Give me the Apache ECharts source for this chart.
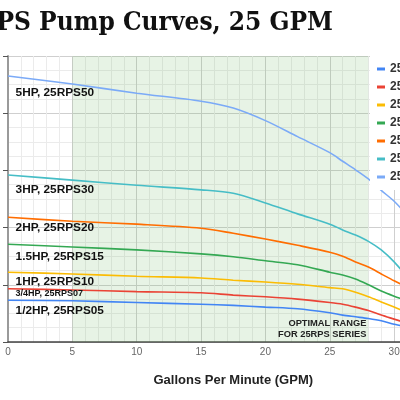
<!DOCTYPE html>
<html>
<head>
<meta charset="utf-8">
<script src="https://cdn.jsdelivr.net/npm/echarts@6/dist/echarts.min.js"></script>
<style>html,body{margin:0;padding:0;background:#fff;overflow:hidden}#c{width:470px;height:400px}</style>
</head>
<body>
<div id="c"></div>
<script>
// Flow (GPM) sample points
const gpm = [0, 5, 10, 15, 17.5, 20, 22.5, 25, 26, 27, 28, 29, 30, 31, 32];
// Head (ft) per model
const rps05 = [73, 72, 69, 66, 64, 61, 58, 51, 47, 44, 41, 37, 31, 26, 21];
const rps07 = [93, 91, 88, 86, 82, 79, 75, 69, 66, 61, 55, 47, 40, 33, 26];
const rps10 = [122, 119, 115, 112, 108, 105, 101, 95, 93, 87, 79, 70, 61, 52, 44];
const rps15 = [171, 166, 161, 154, 149, 142, 135, 122, 117, 110, 100, 89, 80, 72, 63];
const rps20 = [218, 211, 206, 199, 190, 180, 169, 157, 150, 140, 131, 119, 107, 96, 86];
const rps30 = [292, 283, 274, 266, 260, 243, 224, 206, 196, 187, 176, 161, 140, 114, 87];
const rps50 = [465, 451, 435, 421, 409, 387, 359, 331, 316, 301, 285, 265, 246, 222, 196];

const seriesNames = ['25RPS05', '25RPS07', '25RPS10', '25RPS15', '25RPS20', '25RPS30', '25RPS50'];
const seriesData = [rps05, rps07, rps10, rps15, rps20, rps30, rps50];
const curveLabels = ['1/2HP, 25RPS05', '3/4HP, 25RPS07', '1HP, 25RPS10', '1.5HP, 25RPS15', '2HP, 25RPS20', '3HP, 25RPS30', '5HP, 25RPS50'];
const curveLabelHead = [55, 84, 105, 149, 199, 267, 435];
const optimalRange = [5, 28];
const titleText = '25RPS Pump Curves, 25 GPM';
const xAxisName = 'Gallons Per Minute (GPM)';
const optimalText = 'OPTIMAL RANGE\nFOR 25RPS SERIES';

const colors = ['#4285F4', '#EA4335', '#FBBC04', '#34A853', '#FF6D01', '#46BDC6', '#7BAAF7'];
const labelFont = "'Liberation Sans', Arial, sans-serif";

const series = seriesNames.map((name, i) => {
  const s = {
    name: name,
    type: 'line',
    smooth: 0.3,
    showSymbol: false,
    symbol: 'none',
    data: gpm.map((g, j) => [g, seriesData[i][j]]),
    lineStyle: { width: 1.6, color: colors[i] },
    itemStyle: { color: colors[i] },
    z: 3,
    markPoint: {
      symbol: 'rect',
      symbolSize: 1,
      itemStyle: { color: 'transparent' },
      silent: true,
      data: [{
        coord: [0.55, curveLabelHead[i]],
        label: {
          show: true,
          position: 'right',
          distance: 0,
          formatter: curveLabels[i],
          color: '#111',
          fontWeight: 'bold',
          fontFamily: labelFont,
          fontSize: i === 1 ? 9 : 11.8
        }
      }]
    }
  };
  if (i === 0) {
    s.markArea = {
      silent: true,
      itemStyle: { color: 'rgba(120,190,110,0.18)' },
      label: {
        show: true,
        position: 'insideBottomRight',
        distance: 2,
        formatter: optimalText,
        align: 'right',
        color: '#222',
        fontWeight: 'bold',
        fontSize: 9.3,
        lineHeight: 11,
        fontFamily: labelFont
      },
      data: [[{ xAxis: optimalRange[0] }, { xAxis: optimalRange[1] }]]
    };
  }
  return s;
});

const chart = echarts.init(document.getElementById('c'), null, { renderer: 'canvas' });
chart.setOption({
  animation: false,
  backgroundColor: '#fff',
  color: colors,
  graphic: [{
    type: 'text',
    z: 100,
    style: {
      text: titleText,
      x: 333,
      y: 23,
      align: 'right',
      verticalAlign: 'middle',
      font: "bold 26px 'DejaVu Serif Condensed', 'DejaVu Serif', serif",
      fill: '#111'
    }
  }],
  grid: { left: 8, top: 56, height: 286, width: 450.5, containLabel: false, outerBoundsMode: 'none' },
  legend: {
    orient: 'vertical',
    left: 370,
    top: 56,
    padding: [6, 0, 6, 7],
    backgroundColor: '#fff',
    itemGap: 4,
    itemWidth: 8,
    itemHeight: 3,
    icon: 'rect',
    data: seriesNames,
    textStyle: { color: '#333', fontWeight: 'bold', fontSize: 12, lineHeight: 14, fontFamily: labelFont },
    z: 10
  },
  xAxis: {
    type: 'value',
    min: 0,
    max: 35,
    interval: 5,
    name: xAxisName,
    nameLocation: 'middle',
    nameGap: 32,
    nameTextStyle: { color: '#222', fontWeight: 'bold', fontSize: 13, fontFamily: labelFont },
    axisLine: { show: true, lineStyle: { color: '#444', width: 1.5 } },
    axisTick: { show: false },
    axisLabel: { color: '#666', fontSize: 10, margin: 5, fontFamily: labelFont },
    splitLine: { show: true, lineStyle: { color: '#cfcfcf', width: 1 } },
    minorTick: { show: false, splitNumber: 5 },
    minorSplitLine: { show: true, lineStyle: { color: '#ebebeb', width: 1 } }
  },
  yAxis: {
    type: 'value',
    min: 0,
    max: 500,
    interval: 100,
    axisLine: { show: true, onZero: false, lineStyle: { color: '#9a9a9a', width: 2 } },
    axisTick: { show: true, length: 5, lineStyle: { color: '#555', width: 1 } },
    axisLabel: { show: false },
    splitLine: { show: true, lineStyle: { color: '#cfcfcf', width: 1 } },
    minorTick: { show: false, splitNumber: 4 },
    minorSplitLine: { show: true, lineStyle: { color: '#ebebeb', width: 1 } }
  },
  series: series
});
</script>
</body>
</html>
